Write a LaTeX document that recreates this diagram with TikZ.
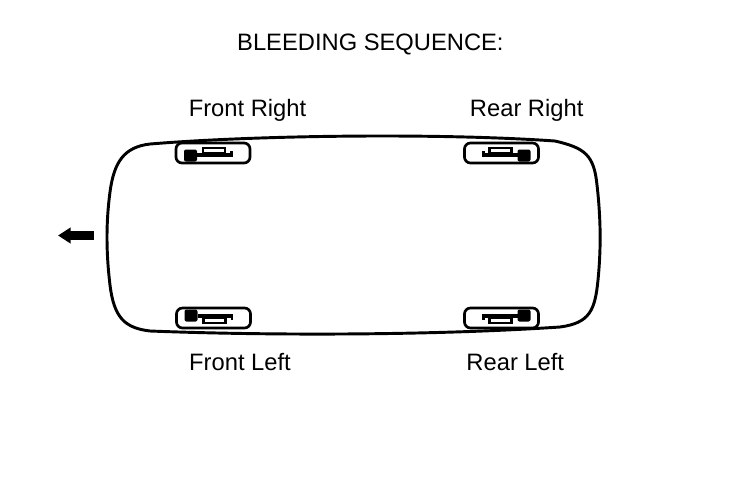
\documentclass[tikz,border=0pt]{standalone}
\usepackage{fontspec}
\setmainfont{Liberation Sans}
\usetikzlibrary{arrows.meta}
\tikzset{
  caliper/.pic={
    \draw[line width=2pt, rounded corners=4.5pt] (-37,-10) rectangle (37,10);
    \fill[rounded corners=1.5pt] (-29,-3.5) rectangle (-16,8.5);
    \fill (-16,-0.3) rectangle (19.5,4.3);
    \draw[line width=1.6pt] (-10,-5.3) rectangle (12,0);
    \fill (17,-2) rectangle (19.5,4.3);
  },
  label/.style={anchor=base, inner sep=0pt, font=\fontsize{17.8}{21}\selectfont}
}
\begin{document}
\begin{tikzpicture}[x=0.75pt, y=-0.75pt]
  \useasboundingbox (0,0) rectangle (736,480);
  \node[label] (title) at (370.4,50) {BLEEDING SEQUENCE:};
  \node[label] (fr) at (247.5,116.7) {Front Right};
  \node[label] (rr) at (526.7,116.7) {Rear Right};
  \node[label] (fl) at (240,370) {Front Left};
  \node[label] (rl) at (515.3,370) {Rear Left};
  \draw[line width=2.2pt]
    (150,144) .. controls (124,147) and (114,162) .. (110,192)
    .. controls (106,222) and (106,252) .. (110,285)
    .. controls (114,318) and (125,328) .. (150,331)
    .. controls (280,336) and (440,335) .. (560,327)
    .. controls (590,323) and (595,310) .. (598,280)
    .. controls (601,250) and (601,220) .. (597,185)
    .. controls (594,155) and (585,148) .. (555,141)
    .. controls (440,133) and (260,135) .. (150,144) -- cycle;
  \pic at (213,153) {caliper};
  \pic[xscale=-1] at (501.5,153) {caliper};
  \pic[yscale=-1] at (213.5,318) {caliper};
  \pic[xscale=-1, yscale=-1] at (501.5,318) {caliper};
  \coordinate (tail) at (94,235.5);
  \coordinate (tip) at (58,235.5);
  \draw[line width=6.75pt, -{Triangle[length=9.4pt, width=11.4pt]}] (tail) -- (tip);
\end{tikzpicture}
\end{document}
